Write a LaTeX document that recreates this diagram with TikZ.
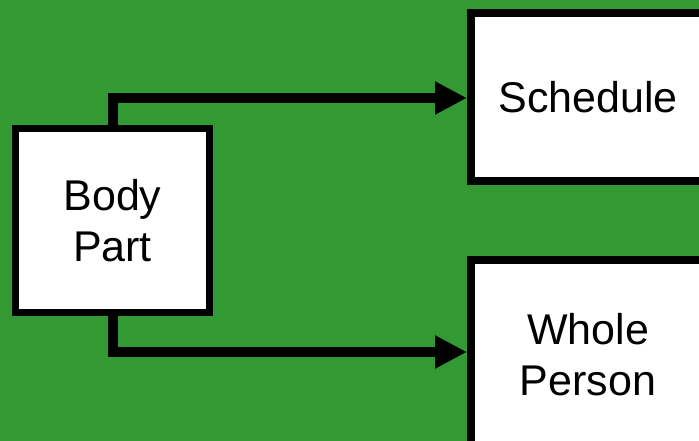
\documentclass[tikz,border=0pt]{standalone}
\usepackage{fontspec}
\setmainfont{Liberation Sans}
\usetikzlibrary{arrows.meta}
\definecolor{bggreen}{RGB}{51,153,51}
\begin{document}
\begin{tikzpicture}[x=1pt,y=-1pt,
  box/.style={draw=black,fill=white,line width=8pt,align=center,inner sep=0pt,
    font=\fontsize{43}{51}\selectfont},
  conn/.style={line width=10pt,line join=miter,-{Triangle[length=32pt,width=31pt]}}]
\fill[bggreen] (0,0) rectangle (699,441);
\useasboundingbox (0,0) rectangle (699,441);
\begin{scope}
\clip (0,0) rectangle (699,441);
\node[box,line width=7pt,minimum width=194pt,minimum height=184pt] (bp) at (112.5,220.5) {Body\\Part};
\node[box,minimum width=234pt,minimum height=168pt] (sch) at (588,97) {Schedule};
\node[box,minimum width=234pt,minimum height=190pt] (wp) at (588,355) {Whole\\Person};
\draw[conn] (bp.north) |- ([yshift=-1pt]sch.west);
\draw[conn] (bp.south) |- ([yshift=3pt]wp.west);
\end{scope}
\end{tikzpicture}
\end{document}
